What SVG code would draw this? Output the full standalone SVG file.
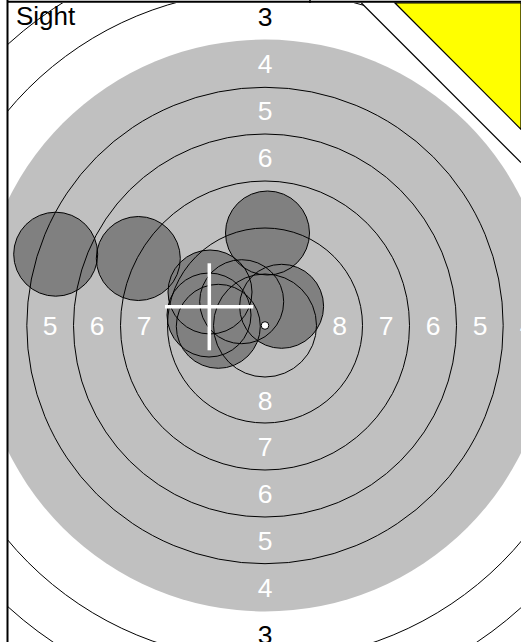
<svg xmlns="http://www.w3.org/2000/svg" width="521" height="642" viewBox="0 0 521 642">
  <style>
    .ring { fill: none; stroke: #000; stroke-width: 1; }
    .shotfill { fill: #808080; stroke: none; }
    .shotline { fill: none; stroke: #000; stroke-width: 1; }
    .lbl { font-family: "Liberation Sans", Arial, sans-serif; font-size: 26.5px; text-anchor: middle; }
    .w { fill: #fff; }
    .b { fill: #000; }
    .edge { stroke: #000; stroke-width: 1.2; fill: none; }
  </style>
  <defs>
    <clipPath id="card">
      <polygon points="8,3 361.4,3 521,162.6 521,642 8,642"/>
    </clipPath>
    <circle id="shot" r="42" cx="0" cy="0"/>
  </defs>
  <rect x="0" y="0" width="521" height="642" fill="#fff"/>

  <g id="target" clip-path="url(#card)">
    <circle id="black-area" cx="265" cy="325.5" r="286" fill="#c0c0c0"/>
    <g id="labels">
      <text class="lbl b" x="265" y="26">3</text>
      <text class="lbl w" x="265" y="73">4</text>
      <text class="lbl w" x="265" y="120">5</text>
      <text class="lbl w" x="265" y="167">6</text>
      <text class="lbl w" x="265" y="409.5">8</text>
      <text class="lbl w" x="265" y="456.2">7</text>
      <text class="lbl w" x="265" y="503.2">6</text>
      <text class="lbl w" x="265" y="550.2">5</text>
      <text class="lbl w" x="265" y="597.2">4</text>
      <text class="lbl b" x="265" y="644">3</text>
      <text class="lbl w" x="50" y="335">5</text>
      <text class="lbl w" x="97" y="335">6</text>
      <text class="lbl w" x="144" y="335">7</text>
      <text class="lbl w" x="339.5" y="335">8</text>
      <text class="lbl w" x="386" y="335">7</text>
      <text class="lbl w" x="433" y="335">6</text>
      <text class="lbl w" x="480" y="335">5</text>
      <text class="lbl w" x="527" y="335">4</text>
    </g>
    <g id="shots-fill" class="shotfill">
      <use href="#shot" x="55.7" y="254.2"/>
      <use href="#shot" x="138.3" y="258.5"/>
      <use href="#shot" x="267.5" y="233"/>
      <use href="#shot" x="281.6" y="306.3"/>
      <use href="#shot" x="209" y="315"/>
      <use href="#shot" x="210" y="292"/>
      <use href="#shot" x="218.3" y="326.3"/>
      <use href="#shot" x="241.7" y="301.7"/>
    </g>
    <g id="rings" class="ring">
      <circle cx="265" cy="325.5" r="381"/>
      <circle cx="265" cy="325.5" r="335"/>
      <circle cx="265" cy="325.5" r="238.2"/>
      <circle cx="265" cy="325.5" r="191.5"/>
      <circle cx="265" cy="325.5" r="144.5"/>
      <circle cx="265" cy="325.5" r="97.5"/>
      <circle cx="265" cy="325.5" r="51.5"/>
    </g>
    <g id="shots-outline" class="shotline">
      <use href="#shot" x="55.7" y="254.2"/>
      <use href="#shot" x="138.3" y="258.5"/>
      <use href="#shot" x="267.5" y="233"/>
      <use href="#shot" x="281.6" y="306.3"/>
      <use href="#shot" x="209" y="315"/>
      <use href="#shot" x="210" y="292"/>
      <use href="#shot" x="218.3" y="326.3"/>
      <use href="#shot" x="241.7" y="301.7"/>
    </g>
  </g>

  <g id="card-edges">
    <line class="edge" x1="361.4" y1="3" x2="521" y2="162.6"/>
    <polygon points="395,3 521,3 521,129.3" fill="#ffff00" stroke="#000" stroke-width="1.2"/>
    <line x1="7.5" y1="0" x2="7.5" y2="642" stroke="#000" stroke-width="2"/>
    <line x1="7" y1="1.8" x2="521" y2="1.8" stroke="#000" stroke-width="2"/>
    <line x1="310" y1="0" x2="310" y2="3" stroke="#000" stroke-width="1.5"/>
  </g>

  <g id="sight-label">
    <text x="16" y="25" style="font-family: 'Liberation Sans', Arial, sans-serif; font-size: 26px;" fill="#000">Sight</text>
  </g>

  <g id="sight-marks">
    <line x1="165" y1="306.7" x2="253.3" y2="306.7" stroke="#fff" stroke-width="3.5"/>
    <line x1="209.3" y1="263.3" x2="209.3" y2="350.3" stroke="#fff" stroke-width="3.5"/>
    <circle cx="265" cy="325.5" r="3.8" fill="#fff" stroke="#000" stroke-width="1"/>
  </g>
</svg>
